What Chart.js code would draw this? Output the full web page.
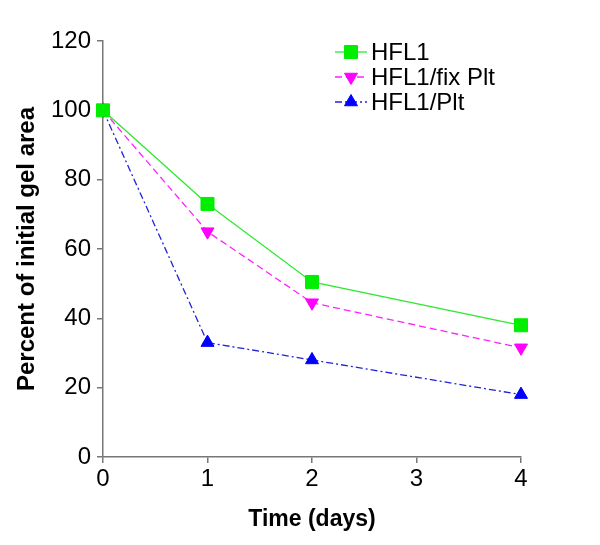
<!DOCTYPE html>
<html>
<head>
<meta charset="utf-8">
<script src="https://cdn.jsdelivr.net/npm/chart.js@4.4.0/dist/chart.umd.min.js"></script>
<style>
    html, body { margin: 0; padding: 0; background: #fff; }
    #wrap { width: 600px; height: 545px; }
</style>
</head>
<body>
<div id="wrap"><canvas id="gelChart" width="600" height="545"></canvas></div>
<script>
const FONT_FAMILY = 'Arial, "Liberation Sans", sans-serif';

// data
const days = [0, 1, 2, 4];
const hfl1 = [100, 73, 50.5, 38];
const hfl1FixPlt = [100, 65, 44.5, 31.5];
const hfl1Plt = [100, 33, 28, 18];
const seriesLabels = ['HFL1', 'HFL1/fix Plt', 'HFL1/Plt'];
const xTicks = [0, 1, 2, 3, 4];
const yTicks = [0, 20, 40, 60, 80, 100, 120];

function toPoints(values) {
    return days.map((d, i) => ({x: d, y: values[i]}));
}

// legend drawn by hand, line sample + marker like the original
const legendRows = [52, 77, 102];
const inlineLegend = {
    id: 'inlineLegend',
    afterDraw(chart) {
        const ctx = chart.ctx;
        chart.data.datasets.forEach((ds, i) => {
            let y = legendRows[i];
            ctx.save();
            ctx.strokeStyle = ds.borderColor;
            ctx.lineWidth = ds.borderWidth;
            ctx.setLineDash(ds.borderDash || []);
            ctx.beginPath();
            ctx.moveTo(335, y);
            ctx.lineTo(367, y);
            ctx.stroke();
            ctx.setLineDash([]);
            ctx.fillStyle = ds.pointBackgroundColor;
            ctx.strokeStyle = ds.pointBorderColor;
            ctx.lineWidth = 1;
            Chart.helpers.drawPoint(ctx, {
                pointStyle: ds.pointStyle,
                rotation: ds.pointRotation || 0,
                radius: ds.pointRadius,
                borderWidth: 1
            }, 351, y);
            ctx.fillStyle = '#000';
            ctx.font = '24px ' + FONT_FAMILY;
            ctx.textAlign = 'left';
            ctx.textBaseline = 'middle';
            ctx.fillText(ds.label, 371, y + 1);
            ctx.restore();
        });
    }
};

const datasets = [
    {
        label: seriesLabels[0],
        data: toPoints(hfl1),
        borderColor: '#2ee82e',
        borderWidth: 1.3,
        pointStyle: 'rect',
        pointRadius: 9.2,
        pointBackgroundColor: '#00ee00',
        pointBorderColor: '#00ee00',
    },
    {
        label: seriesLabels[1],
        data: toPoints(hfl1FixPlt),
        borderColor: '#ff22ff',
        borderWidth: 1.3,
        borderDash: [7, 4],
        pointStyle: 'triangle',
        pointRotation: 180,
        pointRadius: 7.5,
        pointBackgroundColor: '#ff00ff',
        pointBorderColor: '#ff00ff',
    },
    {
        label: seriesLabels[2],
        data: toPoints(hfl1Plt),
        borderColor: '#2222dd',
        borderWidth: 1.3,
        borderDash: [7, 3, 2, 3],
        pointStyle: 'triangle',
        pointRadius: 7.5,
        pointBackgroundColor: '#0000ff',
        pointBorderColor: '#0000ff',
    }
].map(ds => Object.assign({
    showLine: true,
    fill: false,
    tension: 0,
    clip: false,
    pointBorderWidth: 1,
    pointHoverRadius: ds.pointRadius,
    pointRotation: 0
}, ds));

new Chart(document.getElementById('gelChart').getContext('2d'), {
    type: 'scatter',
    data: {datasets: datasets},
    plugins: [inlineLegend],
    options: {
        responsive: false,
        animation: false,
        devicePixelRatio: 1,
        layout: {
            padding: {top: 41, right: 79, left: 0, bottom: 0}
        },
        plugins: {
            legend: {display: false},
            tooltip: {enabled: false}
        },
        scales: {
            x: {
                type: 'linear',
                min: 0,
                max: 4,
                afterFit(scale) { scale.height = 88; },
                afterBuildTicks(scale) { scale.ticks = xTicks.map(v => ({value: v})); },
                border: {display: true, color: '#777', width: 1.5},
                grid: {drawOnChartArea: false, drawTicks: true, tickLength: 6, tickColor: '#777', lineWidth: 1.5},
                ticks: {
                    color: '#000',
                    padding: 2,
                    font: {family: FONT_FAMILY, size: 24}
                },
                title: {
                    display: true,
                    text: 'Time (days)',
                    color: '#000',
                    padding: {top: 0, bottom: 12},
                    font: {family: FONT_FAMILY, size: 23, weight: 'bold'}
                }
            },
            y: {
                type: 'linear',
                min: 0,
                max: 120,
                afterFit(scale) { scale.width = 103; },
                afterBuildTicks(scale) { scale.ticks = yTicks.map(v => ({value: v})); },
                border: {display: true, color: '#777', width: 1.5},
                grid: {drawOnChartArea: false, drawTicks: true, tickLength: 6, tickColor: '#777', lineWidth: 1.5},
                ticks: {
                    color: '#000',
                    padding: 6,
                    font: {family: FONT_FAMILY, size: 24}
                },
                title: {
                    display: true,
                    text: 'Percent of initial gel area',
                    color: '#000',
                    padding: {top: 13, bottom: 0},
                    font: {family: FONT_FAMILY, size: 24, weight: 'bold'}
                }
            }
        }
    }
});
</script>
</body>
</html>
